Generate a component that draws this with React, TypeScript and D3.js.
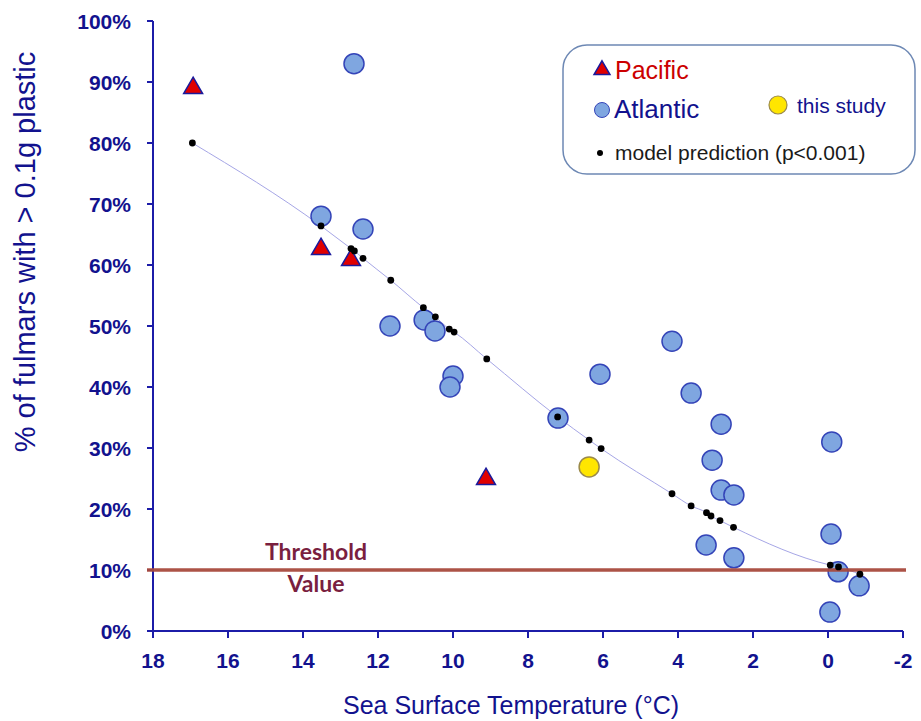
import React from 'react';
import * as d3 from 'd3';

// Atlantic samples (sea surface temperature °C, % of fulmars > 0.1g plastic)
const atlanticTemp = [12.64, 13.52, 12.4, 11.68, 10.77, 10.48, 10.0, 10.08, 7.2, 6.08, 4.16, 3.65, 2.85, 3.09, 2.85, 2.51, 3.25, 2.51, -0.1, -0.08, -0.27, -0.83, -0.05];
const atlanticPct = [93, 68, 65.9, 50, 51, 49.2, 41.8, 40, 34.9, 42.1, 47.5, 39, 33.9, 28, 23.1, 22.3, 14.1, 12, 31, 15.9, 9.7, 7.4, 3.1];

// Pacific samples
const pacificTemp = [16.93, 13.52, 12.72, 9.12];
const pacificPct = [89, 62.6, 60.8, 24.9];

// this study
const studyTemp = [6.37];
const studyPct = [26.9];

// model prediction points
const modelTemp = [16.95, 13.52, 12.72, 12.63, 12.4, 11.66, 10.79, 10.47, 10.1, 9.97, 9.1, 7.21, 6.37, 6.05, 4.16, 3.65, 3.24, 3.12, 2.88, 2.52, -0.06, -0.28, -0.85];
const modelPct = [80, 66.4, 62.7, 62.3, 61.1, 57.5, 53, 51.5, 49.5, 49, 44.6, 35.1, 31.3, 29.9, 22.5, 20.5, 19.4, 18.85, 18.1, 17, 10.8, 10.5, 9.3];

const xTicks = [18, 16, 14, 12, 10, 8, 6, 4, 2, 0, -2];
const yTicks = [0, 10, 20, 30, 40, 50, 60, 70, 80, 90, 100];
const threshold = 10;

const W = 921;
const H = 721;
const navy = '#12128e';
const axisColor = '#1c1ca8';

export default function App() {
  const x = d3.scaleLinear().domain([18, -2]).range([153, 903]);
  const y = d3.scaleLinear().domain([0, 100]).range([631, 21]);

  const model = modelTemp.map((t, i) => ({ t, p: modelPct[i] }));
  const curve = d3
    .line<{ t: number; p: number }>()
    .x((d) => x(d.t))
    .y((d) => y(d.p))
    .curve(d3.curveMonotoneX)(model.slice().sort((a, b) => a.t - b.t));

  const tri = d3.symbol(d3.symbolTriangle, 155)();
  const triLegend = d3.symbol(d3.symbolTriangle, 110)();

  return (
    <svg
      width={W}
      height={H}
      style={{ position: 'absolute', left: 0, top: 0, background: '#fff' }}
      fontFamily="'Liberation Sans', Arial, sans-serif"
    >
      {/* y axis */}
      <line x1={x(18)} x2={x(18)} y1={y(100)} y2={y(0)} stroke={axisColor} strokeWidth={2} />
      {yTicks.map((v) => (
        <g key={'y' + v}>
          <line x1={x(18) - 6} x2={x(18)} y1={y(v)} y2={y(v)} stroke={axisColor} strokeWidth={2} />
          <text x={131} y={y(v)} dy="0.36em" textAnchor="end" fontSize={21} fontWeight="bold" fill={navy}>
            {v}%
          </text>
        </g>
      ))}
      {/* x axis */}
      <line x1={x(18)} x2={x(-2)} y1={y(0)} y2={y(0)} stroke={axisColor} strokeWidth={2} />
      {xTicks.map((v) => (
        <g key={'x' + v}>
          <line x1={x(v)} x2={x(v)} y1={y(0)} y2={y(0) + 7} stroke={axisColor} strokeWidth={2} />
          <text x={x(v)} y={668} textAnchor="middle" fontSize={21} fontWeight="bold" fill={navy}>
            {v}
          </text>
        </g>
      ))}
      <text x={511} y={714} textAnchor="middle" fontSize={25} fill={navy}>
        Sea Surface Temperature (°C)
      </text>
      <text
        transform="translate(35,252) rotate(-90)"
        textAnchor="middle"
        fontSize={29}
        fill={navy}
      >
        % of fulmars with &gt; 0.1g plastic
      </text>

      {/* model curve */}
      <path d={curve ?? ''} fill="none" stroke="#a6a6e6" strokeWidth={1} />

      {/* Atlantic */}
      {atlanticTemp.map((t, i) => (
        <circle key={'a' + i} cx={x(t)} cy={y(atlanticPct[i])} r={10} fill="#7fa6e0" stroke="#3444b8" strokeWidth={1.5} />
      ))}
      {/* this study */}
      {studyTemp.map((t, i) => (
        <circle key={'s' + i} cx={x(t)} cy={y(studyPct[i])} r={10} fill="#ffe600" stroke="#9b8a4a" strokeWidth={1.5} />
      ))}
      {/* Pacific */}
      {pacificTemp.map((t, i) => (
        <path
          key={'p' + i}
          d={tri ?? ''}
          transform={`translate(${x(t)},${y(pacificPct[i])})`}
          fill="#e00000"
          stroke="#1a1a9c"
          strokeWidth={1.5}
        />
      ))}

      {/* threshold */}
      <line x1={x(18) - 6} x2={906} y1={y(threshold)} y2={y(threshold)} stroke="#a84a3e" strokeWidth={3.5} opacity={0.95} />
      <g fontFamily="Lato, 'Open Sans', sans-serif" fontWeight="bold" fontSize={23} fill="#7a1f3f" textAnchor="middle">
        <text x={316} y={560}>Threshold</text>
        <text x={316} y={592}>Value</text>
      </g>

      {/* model dots */}
      {model.map((d, i) => (
        <circle key={'m' + i} cx={x(d.t)} cy={y(d.p)} r={3.4} fill="#000" />
      ))}

      {/* legend */}
      <rect x={563} y={45} width={352} height={129} rx={24} ry={24} fill="#fff" stroke="#6d88b4" strokeWidth={1.5} />
      <path d={triLegend ?? ''} transform="translate(602,70)" fill="#e00000" stroke="#1a1a9c" strokeWidth={1.5} />
      <text x={615} y={79} fontSize={25} fill="#cc0000">Pacific</text>
      <circle cx={602} cy={110} r={7.5} fill="#7fa6e0" stroke="#3444b8" strokeWidth={1} />
      <text x={614} y={118} fontSize={26} fill={navy}>Atlantic</text>
      <circle cx={778} cy={105} r={9} fill="#ffe600" stroke="#9b8a4a" strokeWidth={1.2} />
      <text x={797} y={113} fontSize={21} fill={navy}>this study</text>
      <circle cx={600} cy={153} r={3} fill="#000" />
      <text x={615} y={160} fontSize={21} fill="#1a1a1a">model prediction (p&lt;0.001)</text>
    </svg>
  );
}
